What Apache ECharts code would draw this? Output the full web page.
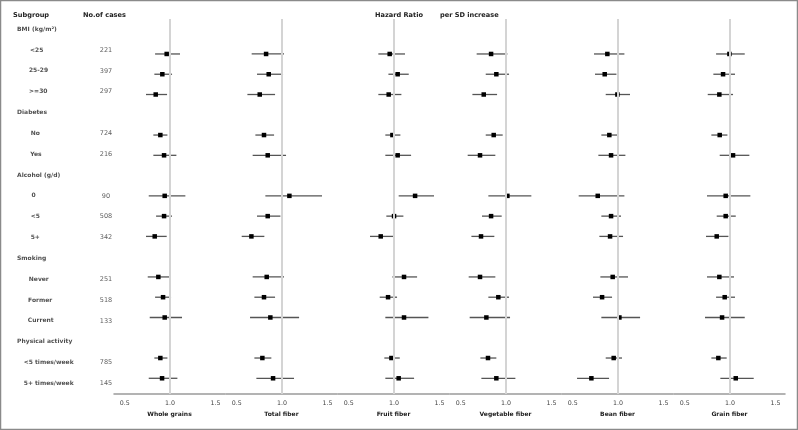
<!DOCTYPE html>
<html><head><meta charset="utf-8">
<script src="https://cdn.jsdelivr.net/npm/echarts@6/dist/echarts.min.js"></script>
<style>html,body{margin:0;padding:0;background:#fff}#c{width:798px;height:430px}</style>
</head><body><div id="c"></div>
<script>
// ---- data ----
const subgroupLabels = ['BMI (kg/m²)', '<25', '25-29', '>=30', 'Diabetes', 'No', 'Yes', 'Alcohol (g/d)', '0', '<5', '5+', 'Smoking', 'Never', 'Former', 'Current', 'Physical activity', '<5 times/week', '5+ times/week'];
const isHeader = [true,false,false,false,true,false,false,true,false,false,false,true,false,false,false,true,false,false];
const cases = ['', '221','397','297','', '724','216','', '90','508','342','', '251','518','133','', '785','145'];
const panelNames = ['Whole grains','Total fiber','Fruit fiber','Vegetable fiber','Bean fiber','Grain fiber'];
const tickValues = [0.5, 1.0, 1.5];

const wholeGrainsHR = [0.963,0.915,0.842,0.893,0.934,0.941,0.934,0.831,0.871,0.923,0.941,0.893,0.912];
const wholeGrainsLo = [0.835,0.827,0.735,0.816,0.816,0.765,0.846,0.735,0.754,0.835,0.776,0.827,0.765];
const wholeGrainsHi = [1.110,1.022,0.967,0.971,1.070,1.169,1.022,0.963,1.011,1.011,1.132,0.971,1.081];

const totalFiberHR = [0.824,0.853,0.754,0.801,0.842,1.081,0.842,0.662,0.831,0.801,0.871,0.783,0.901];
const totalFiberLo = [0.665,0.724,0.618,0.706,0.676,0.816,0.724,0.555,0.676,0.695,0.647,0.695,0.717];
const totalFiberHi = [1.022,1.011,0.923,0.912,1.044,1.441,0.982,0.805,1.022,0.923,1.188,0.882,1.132];

const fruitFiberHR = [0.952,1.040,0.941,0.982,1.040,1.232,1.000,0.853,1.110,0.934,1.110,0.971,1.051];
const fruitFiberLo = [0.827,0.938,0.827,0.904,0.904,1.051,0.915,0.735,0.982,0.842,0.904,0.893,0.904];
const fruitFiberHi = [1.121,1.162,1.081,1.070,1.188,1.441,1.103,0.993,1.254,1.033,1.379,1.063,1.221];

const vegFiberHR = [0.835,0.893,0.754,0.864,0.713,1.015,0.835,0.724,0.713,0.915,0.783,0.801,0.893];
const vegFiberLo = [0.676,0.776,0.629,0.776,0.577,0.805,0.735,0.618,0.588,0.805,0.599,0.717,0.728];
const vegFiberHi = [1.015,1.033,0.901,0.963,0.882,1.279,0.952,0.871,0.882,1.033,1.044,0.893,1.103];

const beanFiberHR = [0.882,0.853,0.993,0.904,0.923,0.776,0.923,0.912,0.941,0.824,1.015,0.952,0.706];
const beanFiberLo = [0.735,0.746,0.864,0.816,0.783,0.566,0.816,0.794,0.805,0.724,0.816,0.864,0.548];
const beanFiberHi = [1.070,0.982,1.132,0.993,1.081,1.070,1.033,1.055,1.110,0.934,1.243,1.044,0.901];

const grainFiberHR = [0.993,0.923,0.882,0.886,1.033,0.952,0.952,0.853,0.882,0.941,0.912,0.871,1.063];
const grainFiberLo = [0.846,0.816,0.754,0.794,0.886,0.746,0.853,0.735,0.746,0.846,0.724,0.794,0.893];
const grainFiberHi = [1.162,1.055,1.033,0.971,1.213,1.224,1.063,0.982,1.044,1.055,1.162,0.963,1.261];

const panelHR = [wholeGrainsHR,totalFiberHR,fruitFiberHR,vegFiberHR,beanFiberHR,grainFiberHR];
const panelLo = [wholeGrainsLo,totalFiberLo,fruitFiberLo,vegFiberLo,beanFiberLo,grainFiberLo];
const panelHi = [wholeGrainsHi,totalFiberHi,fruitFiberHi,vegFiberHi,beanFiberHi,grainFiberHi];

// ---- layout ----
const FONT = 'DejaVu Sans';
const dataRows = subgroupLabels.map((_, i) => i).filter(i => !isHeader[i]);
const grids = [], xAxes = [], yAxes = [], series = [];
const PANEL_LEFT = 114, PANEL_W = 112, TOP = 19, BOTTOM_Y = 394;
for (let p = 0; p < 6; p++) {
  grids.push({left: PANEL_LEFT + PANEL_W * p, top: TOP, width: PANEL_W - 1, height: BOTTOM_Y - TOP});
  xAxes.push({
    type: 'value', gridIndex: p, min: 0.382, max: 1.606,
    splitLine: {show: false},
    axisLine: {show: true, onZero: false, lineStyle: {color: '#9a9a9a', width: 1.5}},
    axisTick: {show: false},
    axisLabel: {customValues: tickValues, formatter: v => v.toFixed(1), color: '#444', fontFamily: FONT, fontSize: 6.3, margin: 6},
    name: panelNames[p], nameLocation: 'middle', nameGap: 17,
    nameTextStyle: {fontFamily: FONT, fontSize: 6, fontWeight: 'bold', color: '#222'}
  });
  yAxes.push({type: 'value', gridIndex: p, inverse: true, min: -0.725, max: 17.775, show: false});
  series.push({
    type: 'line', xAxisIndex: p, yAxisIndex: p, data: [], z: 1, silent: true,
    markLine: {silent: true, symbol: 'none', animation: false, label: {show: false},
      lineStyle: {color: '#d4d4d4', width: 2, type: 'solid'}, data: [{xAxis: 1}]}
  });
  const d = dataRows.map((r, k) => [panelHR[p][k], panelLo[p][k], panelHi[p][k], r]);
  series.push({
    type: 'custom', xAxisIndex: p, yAxisIndex: p, z: 3, data: d,
    encode: {x: [0, 1, 2], y: 3},
    renderItem: function (params, api) {
      const c = api.coord([api.value(0), api.value(3)]);
      const l = api.coord([api.value(1), api.value(3)]);
      const h = api.coord([api.value(2), api.value(3)]);
      const s = 4.5;
      return {type: 'group', children: [
        {type: 'line', shape: {x1: l[0], y1: l[1], x2: h[0], y2: h[1]}, style: {stroke: '#555', lineWidth: 1.3}},
        {type: 'rect', shape: {x: c[0] - s / 2, y: c[1] - s / 2, width: s, height: s}, style: {fill: '#000'}}
      ]};
    }
  });
}
// text grid (index 6)
grids.push({left: 0, top: 0, width: 798, height: 430});
xAxes.push({type: 'value', gridIndex: 6, min: 0, max: 798, show: false});
yAxes.push({type: 'value', gridIndex: 6, inverse: true, min: -1.402, max: 19.24, show: false});
const txtBase = {type: 'scatter', xAxisIndex: 6, yAxisIndex: 6, symbolSize: 0.1, itemStyle: {color: 'rgba(0,0,0,0)'}, silent: true, animation: false};
series.push(Object.assign({}, txtBase, {
  data: subgroupLabels.map((t, i) => isHeader[i] ? [17, i, t] : null).filter(Boolean),
  label: {show: true, position: 'right', distance: 0, formatter: p => p.data[2], fontFamily: FONT, fontSize: 6, fontWeight: 'bold', color: '#222'}
}));
series.push(Object.assign({}, txtBase, {
  data: subgroupLabels.map((t, i) => !isHeader[i] ? [32.2, i, t] : null).filter(Boolean),
  label: {show: true, position: 'inside', formatter: p => p.data[2], fontFamily: FONT, fontSize: 6, fontWeight: 'bold', color: '#222'},
  labelLayout: function (params) { return {dx: 0.33 * params.labelRect.width}; }
}));
series.push(Object.assign({}, txtBase, {
  data: cases.map((t, i) => t ? [106, i, t] : null).filter(Boolean),
  label: {show: true, position: 'inside', formatter: p => p.data[2], fontFamily: FONT, fontSize: 6.5, color: '#333'}
}));

const hdr = (text, x) => ({type: 'text', x: x, y: 15, silent: true,
  style: {text: text, font: 'bold 6.6px "DejaVu Sans"', fill: '#222', verticalAlign: 'middle'}});

const chart = echarts.init(document.getElementById('c'), null, {renderer: 'canvas'});
chart.setOption({
  animation: false,
  backgroundColor: '#fff',
  grid: grids, xAxis: xAxes, yAxis: yAxes, series: series,
  graphic: [
    {type: 'rect', shape: {x: 0.5, y: 0.5, width: 797, height: 429}, style: {fill: 'none', stroke: '#8a8a8a', lineWidth: 1.5}, silent: true},
    hdr('Subgroup', 13), hdr('No.of cases', 83), hdr('Hazard Ratio', 375), hdr('per SD increase', 440)
  ]
});
</script></body></html>
